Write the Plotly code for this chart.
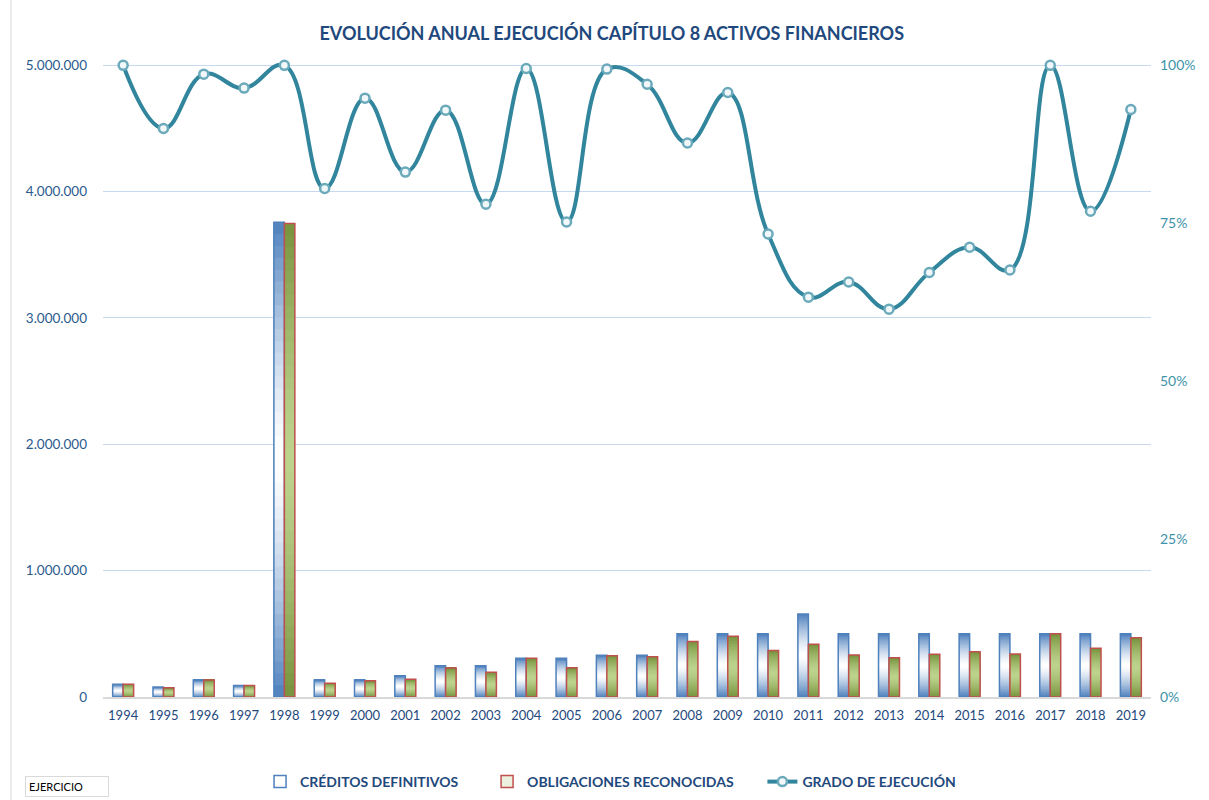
import plotly.graph_objects as go

years = [str(y) for y in range(1994, 2020)]
creditos = [100000, 79000, 135000, 92000, 3758000, 135000, 135000, 168000, 248000, 248000,
            306000, 306000, 330000, 330000, 500000, 500000, 500000, 657000, 500000, 500000,
            500000, 500000, 500000, 500000, 500000, 500000]
obligaciones = [100000, 73000, 135000, 92000, 3747000, 109000, 128000, 140000, 230000, 195000,
                306000, 232000, 326000, 318000, 440000, 480000, 368000, 417000, 332000, 310000,
                338000, 358000, 340000, 500000, 386000, 468000]
grado = [1.00, 0.900, 0.986, 0.964, 1.00, 0.805, 0.948, 0.831, 0.929, 0.780,
         0.995, 0.752, 0.994, 0.970, 0.877, 0.957, 0.733, 0.633, 0.657, 0.614,
         0.672, 0.712, 0.676, 1.00, 0.769, 0.930]

NAVY = "#1F497D"
TEAL = "#31859C"
FONT = "Lato"
PAD = "\u00a0" * 7


def hex2rgb(h):
    h = h.lstrip("#")
    return tuple(int(h[i:i + 2], 16) for i in (0, 2, 4))


def mix(c1, c2, t):
    a, b = hex2rgb(c1), hex2rgb(c2)
    return "rgb(%d,%d,%d)" % tuple(round(a[k] + (b[k] - a[k]) * t) for k in range(3))


fig = go.Figure()
N = 40


def add_gradient(vals, group, center, edge, outline, name, fillrgba):
    for i in range(N):
        frac = i / N
        mid = (i + 0.5) / N
        t = abs(mid - 0.5) * 2
        col = mix(center, edge, t ** 1.4)
        fig.add_trace(go.Bar(
            x=years, y=[v * (1 - frac) for v in vals], base=[v * frac for v in vals],
            offsetgroup=group, marker=dict(color=col, line=dict(width=0)),
            showlegend=False, hoverinfo="skip"))
    fig.add_trace(go.Bar(
        x=years, y=vals, offsetgroup=group, name=name,
        marker=dict(color=fillrgba, line=dict(color=outline, width=1.5))))


add_gradient(creditos, "c", "#FFFFFF", "#4F81BD", "#4F81BD",
             "CRÉDITOS DEFINITIVOS" + PAD, "rgba(255,255,255,0)")
add_gradient(obligaciones, "o", "#C5DA9A", "#6E8A36", "#C0504D",
             "OBLIGACIONES RECONOCIDAS" + PAD, "rgba(155,187,89,0.2)")

fig.add_trace(go.Scatter(
    x=years, y=grado, yaxis="y2", mode="lines+markers", name="GRADO DE EJECUCIÓN",
    line=dict(color=TEAL, width=4, shape="spline", smoothing=1.2),
    marker=dict(symbol="circle", size=9, color="#F2F8FA", line=dict(color="#6AAABB", width=2.5)),
    cliponaxis=False))

fig.update_layout(
    width=1209, height=800,
    paper_bgcolor="white", plot_bgcolor="white",
    margin=dict(l=103, r=58, t=59, b=103, autoexpand=False),
    separators=",.",
    barmode="group", bargap=0.48, bargroupgap=0,
    font=dict(family=FONT, color=NAVY),
    title=dict(text="<b>EVOLUCIÓN ANUAL EJECUCIÓN CAPÍTULO 8 ACTIVOS FINANCIEROS</b>",
               x=0.506, xanchor="center", y=1 - 34 / 800, yanchor="middle",
               font=dict(family=FONT, size=18, color=NAVY)),
    xaxis=dict(type="category", range=[-0.5, 25.5], autorange=False, showgrid=False,
               showline=True, linecolor="#D9D9D9", linewidth=1.5, automargin=False,
               ticks="", tickfont=dict(size=13, color=NAVY), ticklabelstandoff=6),
    yaxis=dict(range=[0, 5050000], autorange=False,
               tickvals=[0, 1000000, 2000000, 3000000, 4000000, 5000000],
               tickformat=",d", showgrid=True, gridcolor="#C6D9F1", gridwidth=1,
               zeroline=False, showline=False, ticks="", automargin=False,
               tickfont=dict(size=13.5, color="#2B5A8E"), ticklabelstandoff=15),
    yaxis2=dict(range=[0, 1.01], autorange=False, overlaying="y", side="right",
                tickvals=[0, 0.25, 0.5, 0.75, 1.0], tickformat=".0%", automargin=False,
                showgrid=False, zeroline=False, showline=False, ticks="",
                tickfont=dict(size=14, color="#3E93AA"), ticklabelstandoff=8),
    legend=dict(orientation="h", x=0.505, xanchor="center", xref="container",
                y=1 - 782 / 800, yanchor="middle", yref="container",
                font=dict(family=FONT, size=14, color=NAVY, weight="bold"),
                traceorder="normal", itemwidth=30, bgcolor="rgba(0,0,0,0)"),
    showlegend=True,
    shapes=[dict(type="line", xref="paper", yref="paper",
                 x0=(11 - 103) / 1048, x1=(11 - 103) / 1048, y0=-103 / 638, y1=1 + 59 / 638,
                 line=dict(color="#D9D9D9", width=1))],
    annotations=[dict(text="EJERCICIO", xref="paper", yref="paper",
                      x=(25 - 103) / 1048, y=-(786 - 697) / 638, xanchor="left", yanchor="middle",
                      showarrow=False, font=dict(family=FONT, size=11, color="black"),
                      bordercolor="#D9D9D9", borderwidth=1, borderpad=3, bgcolor="white",
                      width=76, align="left")],
)

fig.write_html("out.html", config={"displayModeBar": False},
               post_script="document.body.style.margin='0';")
